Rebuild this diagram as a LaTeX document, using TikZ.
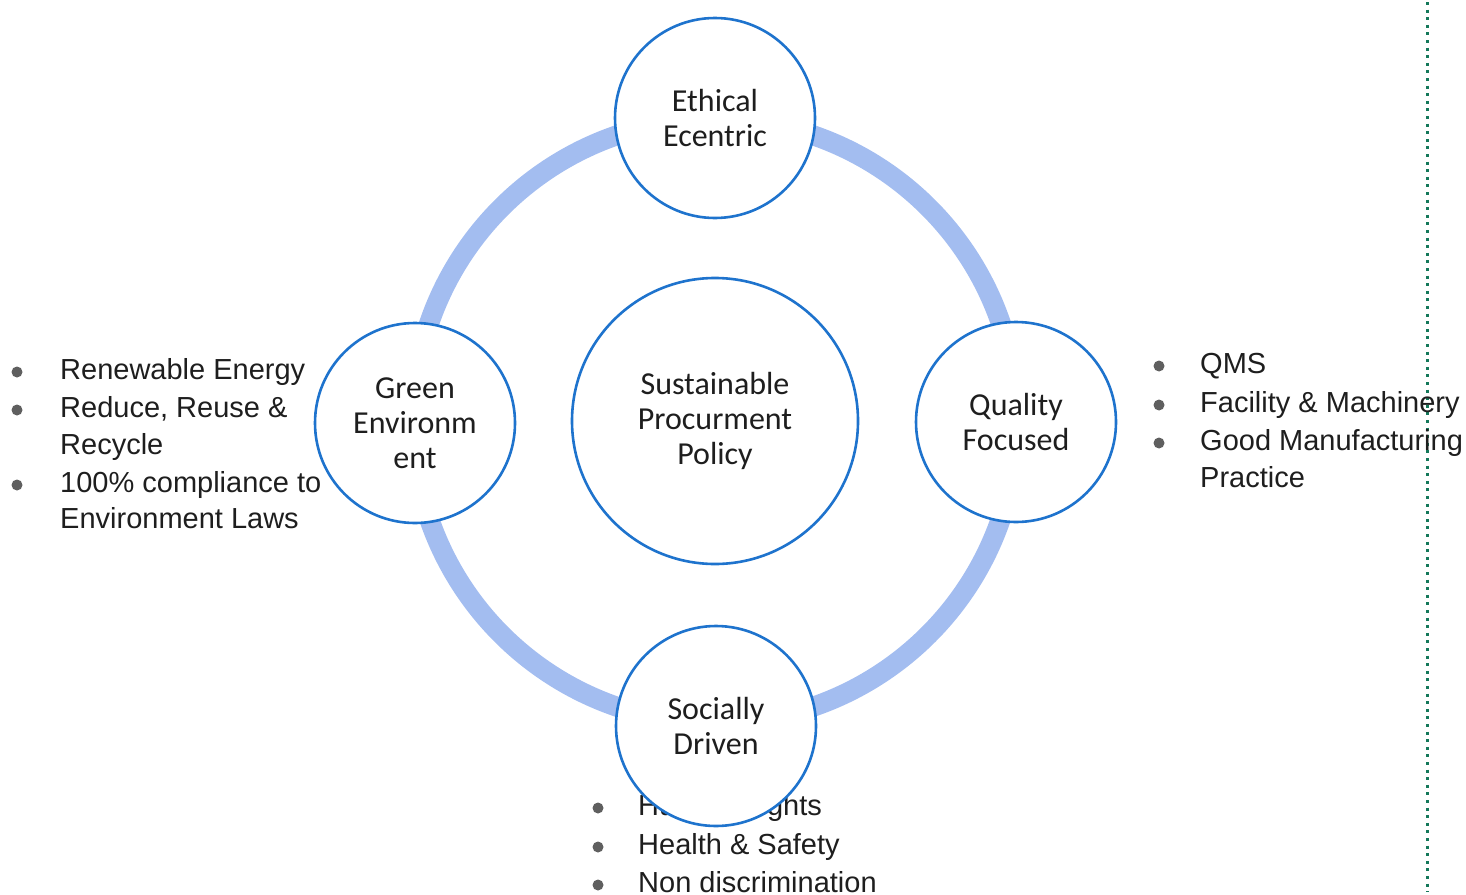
\documentclass[tikz,border=0pt]{standalone}
\usepackage{fontspec}
\setmainfont{Liberation Sans}
\newfontfamily\circfont{Carlito}
\definecolor{ringcol}{RGB}{163,189,240}
\definecolor{edgecol}{RGB}{30,115,205}
\definecolor{txtcol}{RGB}{30,30,30}
\definecolor{bulcol}{RGB}{95,95,95}
\definecolor{dotgreen}{RGB}{20,120,90}
\begin{document}
\begin{tikzpicture}[x=1pt,y=-1pt,
  hub/.style={circle,draw=edgecol,line width=2.6pt,fill=white,align=center,
    font=\circfont\fontsize{32}{35}\selectfont,text=txtcol,inner sep=0pt},
  sat/.style={hub,minimum size=200pt},
  core/.style={hub,minimum size=286pt},
  btxt/.style={anchor=base west,inner sep=0pt,font=\fontsize{29}{34}\selectfont,text=txtcol},
  bul/.style={circle,fill=bulcol,inner sep=0pt,minimum size=11pt}
]
\useasboundingbox (0,0) rectangle (1466,894);
% dotted green line
\coordinate (dtop) at (1427,2);
\coordinate (dbot) at (1427,892);
\draw[dotgreen,line width=3pt,dash pattern=on 3pt off 4.6pt] (dtop) -- (dbot);
% ring
\coordinate (ringc) at (715,421);
\draw[ringcol,line width=20pt] (ringc) circle[radius=302pt];
% left bullets
\node[bul] (lb1) at (17,372) {};
\node[bul] (lb2) at (17,410) {};
\node[bul] (lb3) at (17,485) {};
\node[btxt] (lt1) at (60,379) {Renewable Energy};
\node[btxt] (lt2) at (60,417) {Reduce, Reuse \&};
\node[btxt] (lt3) at (60,454) {Recycle};
\node[btxt] (lt4) at (60,492) {100\% compliance to};
\node[btxt] (lt5) at (60,528) {Environment Laws};
% right bullets
\node[bul] (rb1) at (1159,366) {};
\node[bul] (rb2) at (1159,405) {};
\node[bul] (rb3) at (1159,443) {};
\node[btxt] (rt1) at (1200,373) {QMS};
\node[btxt] (rt2) at (1200,412) {Facility \& Machinery};
\node[btxt] (rt3) at (1200,450) {Good Manufacturing};
\node[btxt] (rt4) at (1200,487) {Practice};
% bottom bullets
\node[bul] (bb1) at (598,808) {};
\node[bul] (bb2) at (598,847) {};
\node[bul] (bb3) at (598,885) {};
\node[btxt] (bt1) at (638,815) {Human Rights};
\node[btxt] (bt2) at (638,854) {Health \& Safety};
\node[btxt] (bt3) at (638,892) {Non discrimination};
% circles
\node[core] (spp) at (ringc) {Sustainable\\Procurment\\Policy};
\node[sat] (eth) at (715,118) {Ethical\\Ecentric};
\node[sat] (grn) at (415,423) {Green\\Environm\\ent};
\node[sat] (qlt) at (1016,422) {Quality\\Focused};
\node[sat] (soc) at (716,726) {Socially\\Driven};
\end{tikzpicture}
\end{document}
